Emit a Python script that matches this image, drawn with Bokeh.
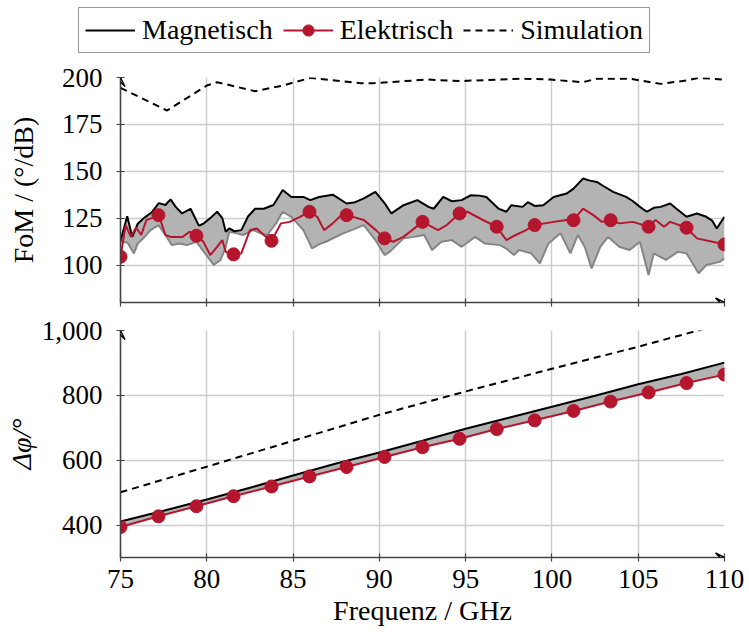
from bokeh.plotting import figure
from bokeh.layouts import column
from bokeh.models import (Legend, LegendItem, FixedTicker, NumeralTickFormatter,
                          Range1d, Arrow, VeeHead)
from bokeh.embed import file_html
from bokeh.resources import INLINE

# ---------------- data ----------------
freq_ticks = [75, 80, 85, 90, 95, 100, 105, 110]
fom_ticks = [100, 125, 150, 175, 200]
phase_ticks = [400, 600, 800, 1000]
series_names = ["Magnetisch", "Elektrisch", "Simulation"]

# FoM, Magnetisch upper (black)
mag_hi_f = [75.0, 75.39, 75.68, 76.0, 76.35, 76.8, 77.22, 77.6, 77.9, 78.2, 78.57, 79.06, 79.54, 79.8,
            80.2, 80.6, 80.9, 81.1, 81.3, 81.6, 82.0, 82.4, 82.8, 83.3, 83.86, 84.4, 84.9, 85.6, 86.0,
            86.5, 87.3, 88.1, 88.6, 89.1, 89.77, 90.3, 90.7, 91.4, 92.2, 92.85, 93.15, 93.7, 94.2,
            94.77, 95.3, 95.8, 96.2, 96.9, 97.36, 97.65, 98.3, 98.6, 99.0, 99.5, 100.1, 100.85,
            101.25, 101.8, 102.2, 102.6, 103.0, 103.55, 104.3, 104.7, 105.1, 105.5, 105.9, 106.3,
            106.85, 107.2, 107.8, 108.4, 108.95, 109.3, 109.55, 110.0]
mag_hi = [113, 126, 115, 122, 125, 128, 133, 132, 135, 131, 127.5, 130, 121, 122,
          125, 128.4, 125, 117.7, 119.5, 118, 118.6, 126, 130, 130, 132, 140, 136.3, 136.3, 134.6,
          136.3, 137.5, 132.8, 133.5, 135.5, 139, 133, 127.5, 131.9, 134.6, 131, 130, 136.3, 134,
          134.6, 137.2, 137, 136.3, 130.1, 128.4, 131.9, 131, 133.5, 131.5, 131.9, 136.3, 138.1,
          140.7, 146.1, 145, 144.3, 142, 139, 136.3, 134, 131, 128.4, 130.5, 131,
          132.8, 130.1, 125.7, 127.5, 125.7, 123.5, 119.5, 125.7]

# FoM, Magnetisch lower (gray)
mag_lo_f = [75.0, 75.4, 75.78, 76.0, 76.4, 76.74, 77.2, 77.6, 77.98, 78.4, 78.85, 79.4, 79.9, 80.4,
            80.8, 81.1, 81.3, 81.7, 82.1, 82.7, 83.1, 83.5, 84.0, 84.4, 84.9, 85.6, 86.1, 86.5, 86.9,
            87.9, 88.5, 89.1, 89.77, 90.3, 90.6, 91.4, 92.0, 92.6, 93.05, 93.6, 94.2, 94.77, 95.55,
            96.1, 97.0, 97.4, 97.8, 98.1, 98.8, 99.3, 99.8, 100.5, 101.07, 101.5, 101.9, 102.3,
            102.8, 103.25, 103.9, 104.5, 105.1, 105.6, 105.9, 106.6, 107.3, 107.8, 108.5, 108.95,
            109.75, 110.0]
mag_lo = [112.4, 112, 106.2, 111.5, 115, 118.6, 121.3, 116, 110.6, 111.5, 110.6, 112.4, 106.2, 100,
          102.7, 109.7, 117.7, 117, 116, 118.6, 117, 116, 122, 128.4, 125.7, 118.6, 108.9, 111, 112.4,
          116.9, 119, 121.3, 113.3, 105.3, 107, 114.2, 115, 116, 108, 112.4, 113.3, 109.7, 115,
          111.5, 110.6, 108.5, 105.3, 108, 106.2, 100.9, 111.5, 116.9, 106.2, 116, 109.7, 98.2,
          109.7, 115, 109.7, 108, 112.4, 94.7, 106.2, 102.7, 107, 106.2, 95.6, 100,
          101.8, 103.6]

# FoM, Elektrisch (red line)
el_f = [75.0, 75.3, 75.6, 75.9, 76.2, 76.5, 76.8, 77.22, 77.6, 77.9, 78.6, 79.0, 79.4, 79.8, 80.2,
        80.6, 80.9, 81.1, 81.55, 82.0, 82.5, 82.9, 83.3, 83.75, 84.3, 84.8, 85.4, 85.95, 86.4, 86.8,
        87.3, 87.7, 88.1, 89.1, 89.8, 90.3, 90.8, 91.4, 91.9, 92.5, 93.4, 93.9, 94.65, 95.1, 96.0,
        96.8, 97.36, 97.9, 98.5, 99.0, 100.1, 100.85, 101.25, 101.8, 102.4, 102.9, 103.4, 103.9,
        104.7, 105.6, 106.0, 106.5, 106.85, 107.8, 108.4, 109.3, 110.0]
el_fom = [104.4, 121.3, 115, 120, 116, 124, 125, 126.6, 116, 115, 115, 117.7, 115.6, 112.4, 105.3,
          109.7, 113.3, 107, 105.7, 106.2, 118.6, 119.5, 116, 112.9, 122.2, 123, 125.7, 128.4, 125.7,
          118.6, 122.2, 125.7, 126.6, 124, 118.6, 114.2, 112.4, 115, 118.6, 123, 118.6, 121.3, 127.5,
          128.4, 124, 120.4, 113.3, 116, 118.6, 121.3, 123, 124, 123.9, 130.1, 126.6, 123, 123.9,
          122.2, 123, 120.4, 124, 120.4, 123, 119.9, 114.2, 112.4, 111]

# markers of Elektrisch
mark_f = [75.0, 77.2, 79.4, 81.55, 83.75, 85.95, 88.1, 90.3, 92.5, 94.65, 96.8, 99.0, 101.25,
          103.4, 105.6, 107.8, 110.0]
mark_fom = [104.4, 126.6, 115.6, 105.7, 112.9, 128.4, 126.6, 114.2, 123, 127.5, 120.4, 121.3,
            123.9, 123.9, 120.4, 119.9, 111]
mark_phase = [394, 427, 458, 489, 519, 550, 579, 610, 640, 666, 696, 723, 752, 781, 809, 838, 864]

# FoM, Simulation
sim_f = [75, 77.7, 80.0, 80.6, 82.8, 84.4, 86.0, 88.9, 89.7, 92.8, 94.7, 98.2, 99.9, 101.8, 102.6,
         104.5, 106.3, 107.8, 108.5, 110]
sim_fom = [194.5, 182.4, 195.7, 197.5, 192.7, 195.7, 199.8, 197, 197, 198.9, 198.1, 199.4, 198.9,
           197.5, 199.4, 199.4, 196.6, 198.4, 199.8, 198.9]

# Phase
mag_ph_f = [75, 77.5, 80, 82.5, 85, 87.5, 90, 92.5, 95, 97.5, 100, 102.5, 105, 107.5, 110]
mag_phase = [411, 444, 479, 515, 553, 590, 624, 660, 697, 731, 765, 799, 834, 866, 901]
sim_ph_f = [75, 80, 85, 90, 95, 100, 105, 110]
sim_phase = [501, 580, 660, 740, 812, 882, 950, 1022]

# ---------------- style ----------------
FONT = "Liberation Serif"
RED = "#b5162e"
FILL = "#b3b3b3"
LOWGRAY = "#858585"
GRID = "#cccccc"
AXIS = "#444444"
DASH = "7 5"


def style(p, show_x_labels):
    p.outline_line_color = None
    p.background_fill_color = "white"
    p.border_fill_color = "white"
    p.xaxis.ticker = FixedTicker(ticks=freq_ticks)
    p.xgrid.ticker = FixedTicker(ticks=freq_ticks)
    for g in (p.xgrid, p.ygrid):
        g.grid_line_color = GRID
        g.grid_line_width = 1.5
    for ax in (p.xaxis[0], p.yaxis[0]):
        ax.axis_line_color = AXIS
        ax.axis_line_width = 1.6
        ax.major_tick_line_color = AXIS
        ax.major_tick_line_width = 1.2
        ax.major_tick_in = 4
        ax.major_tick_out = 4
        ax.minor_tick_line_color = None
        ax.major_label_text_font = FONT
        ax.major_label_text_font_size = "27px"
        ax.major_label_text_color = "black"
        ax.axis_label_text_font = FONT
        ax.axis_label_text_font_size = "28px"
        ax.axis_label_text_font_style = "normal"
        ax.axis_label_text_color = "black"
    p.yaxis.major_label_standoff = 14
    p.xaxis.major_label_standoff = 8
    if not show_x_labels:
        p.xaxis.major_label_text_color = None
        p.xaxis.major_label_standoff = 0
    p.add_layout(Arrow(end=VeeHead(size=9, line_color="black", line_width=1.4, fill_color=None),
                       x_start=p.x_range.start, y_start=p.y_range.end - 1e-3 * (p.y_range.end - p.y_range.start),
                       x_end=p.x_range.start, y_end=p.y_range.end, line_alpha=0))
    p.add_layout(Arrow(end=VeeHead(size=9, line_color="black", line_width=1.4, fill_color=None),
                       x_start=p.x_range.end - 0.01, y_start=p.y_range.start,
                       x_end=p.x_range.end, y_end=p.y_range.start, line_alpha=0))


# ---------------- legend strip ----------------
p0 = figure(width=749, height=60, x_range=Range1d(0, 1), y_range=Range1d(0, 1),
            x_axis_type=None, y_axis_type=None,
            output_backend="svg", toolbar_location=None,
            min_border_left=0, min_border_right=0, min_border_top=0, min_border_bottom=0)
p0.grid.visible = False
p0.outline_line_color = None
p0.background_fill_color = "white"
# proxy glyphs placed outside the visible range: they only feed the legend
l_mag = p0.line([5, 6], [5, 6], line_color="black", line_width=2)
l_el = p0.line([5, 6], [5, 6], line_color=RED, line_width=2)
l_elm = p0.scatter([5], [5], size=13, fill_color=RED, line_color=RED)
l_sim = p0.line([5, 6], [5, 6], line_color="black", line_width=2, line_dash=DASH)
legend = Legend(items=[LegendItem(label=series_names[0], renderers=[l_mag]),
                       LegendItem(label=series_names[1], renderers=[l_el, l_elm]),
                       LegendItem(label=series_names[2], renderers=[l_sim])],
                orientation="horizontal", location=(78, 7))
legend.label_text_font = FONT
legend.label_text_font_size = "28px"
legend.label_text_color = "black"
legend.glyph_width = 50
legend.glyph_height = 28
legend.label_standoff = 7
legend.spacing = 10
legend.padding = 6
legend.margin = 0
legend.border_line_color = "#333333"
legend.border_line_width = 1.5
legend.background_fill_alpha = 1
p0.add_layout(legend)

# ---------------- top panel ----------------
p1 = figure(width=749, height=254, x_range=Range1d(75, 110), y_range=Range1d(80, 200),
            output_backend="svg", toolbar_location=None,
            min_border_left=120, min_border_right=25, min_border_top=17, min_border_bottom=12)
style(p1, False)
p1.yaxis.ticker = FixedTicker(ticks=fom_ticks)
p1.ygrid.ticker = FixedTicker(ticks=fom_ticks)
p1.yaxis.axis_label = "FoM / (°/dB)"
p1.yaxis.axis_label_standoff = 20

p1.patch(mag_hi_f + mag_lo_f[::-1], mag_hi + mag_lo[::-1], fill_color=FILL, line_color=None)
p1.line(mag_lo_f, mag_lo, line_color=LOWGRAY, line_width=2)
p1.line(mag_hi_f, mag_hi, line_color="black", line_width=2)
p1.line(el_f, el_fom, line_color=RED, line_width=2)
p1.scatter(mark_f, mark_fom, size=13, fill_color=RED, line_color=RED)
p1.line(sim_f, sim_fom, line_color="black", line_width=2, line_dash=DASH)

# ---------------- bottom panel ----------------
p2 = figure(width=749, height=321, x_range=p1.x_range, y_range=Range1d(300, 1000),
            output_backend="svg", toolbar_location=None,
            min_border_left=120, min_border_right=25, min_border_top=16, min_border_bottom=78)
style(p2, True)
p2.yaxis.ticker = FixedTicker(ticks=phase_ticks)
p2.ygrid.ticker = FixedTicker(ticks=phase_ticks)
p2.yaxis.formatter = NumeralTickFormatter(format="0,0")
p2.yaxis.axis_label = "Δφ/°"
p2.yaxis.axis_label_text_font_style = "italic"
p2.yaxis.axis_label_standoff = 2
p2.xaxis.axis_label = "Frequenz / GHz"
p2.xaxis.axis_label_standoff = 4

p2.patch(mag_ph_f + mark_f[::-1], mag_phase + mark_phase[::-1], fill_color=FILL, line_color=None)
p2.line(mag_ph_f, mag_phase, line_color="black", line_width=2)
p2.line(mark_f, mark_phase, line_color=RED, line_width=2)
p2.scatter(mark_f, mark_phase, size=13, fill_color=RED, line_color=RED)
p2.line(sim_ph_f, sim_phase, line_color="black", line_width=2, line_dash=DASH)

layout = column(p0, column(p1, p2, spacing=0), spacing=0)
open("out.html", "w").write(file_html(layout, INLINE))
